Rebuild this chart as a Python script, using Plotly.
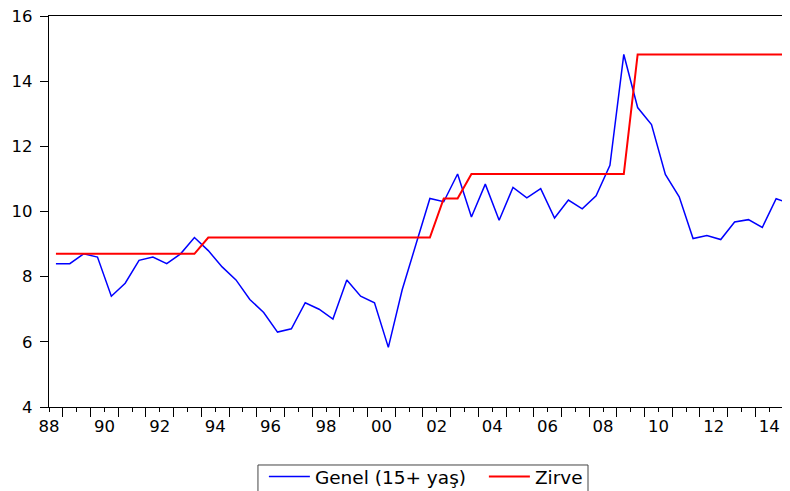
import plotly.graph_objects as go

# Semiannual observations 1988S1 .. 2014S2
periods = [f"{y}S{h}" for y in range(1988, 2015) for h in (1, 2)]
genel = [8.4, 8.4, 8.7, 8.6, 7.4, 7.8, 8.5, 8.6, 8.4, 8.7,
         9.2, 8.8, 8.3, 7.9, 7.3, 6.9, 6.3, 6.4, 7.2, 7.0,
         6.7, 7.9, 7.4, 7.2, 5.83, 7.6, 9.0, 10.4, 10.3, 11.15,
         9.83, 10.84, 9.73, 10.74, 10.42, 10.7, 9.8, 10.35, 10.08, 10.48,
         11.42, 14.82, 13.19, 12.67, 11.14, 10.45, 9.17, 9.26, 9.14, 9.68,
         9.75, 9.51, 10.39, 10.25]
zirve = [8.7] * 11 + [9.2] * 17 + [10.4] * 2 + [11.15] * 12 + [14.82] * 12

tick_years = list(range(1988, 2015))
tick_text = [f"{y % 100:02d}" if y % 2 == 0 else "" for y in tick_years]
y_ticks = [4, 6, 8, 10, 12, 14, 16]


def to_t(p):
    y, h = int(p[:4]), int(p[-1])
    return y + (h - 1) * 0.5 + 0.25


t = [to_t(p) for p in periods]

FONT = "DejaVu Sans, sans-serif"

fig = go.Figure()
fig.add_trace(go.Scatter(x=t, y=genel, mode="lines", name="Genel (15+ yaş)",
                         line=dict(color="#0000FF", width=1.5)))
fig.add_trace(go.Scatter(x=t, y=zirve, mode="lines", name="Zirve",
                         line=dict(color="#FF0000", width=2)))

# legend frame (partly below the visible page, as in the original)
fig.add_shape(type="rect", xref="paper", yref="paper",
              x0=0.282, x1=0.7274, y0=-0.30, y1=-0.1483,
              line=dict(color="#444444", width=1), fillcolor="rgba(0,0,0,0)",
              layer="above")

fig.update_layout(
    width=782, height=483,
    margin=dict(l=41, r=0, t=8, b=84, autoexpand=False),
    paper_bgcolor="white", plot_bgcolor="white",
    font=dict(family=FONT, size=16.5, color="black"),
    showlegend=True,
    legend=dict(orientation="h", x=0.290, xanchor="left", y=-0.1304, yanchor="top",
                borderwidth=0, bgcolor="rgba(0,0,0,0)",
                font=dict(family=FONT, size=18.5), itemwidth=41,
                entrywidth=164, entrywidthmode="pixels",
                traceorder="normal"),
    xaxis=dict(range=[1988, 2014.75], tickmode="array", tickvals=tick_years,
               ticktext=tick_text, ticks="outside", ticklen=4, tickwidth=1,
               tickcolor="black", showgrid=False, zeroline=False,
               showline=True, linecolor="black", linewidth=1.3, mirror=True,
               automargin=False, ticklabelstandoff=0, ticklabeloverflow="allow",
               minor=dict(tickmode="array", tickvals=[y + 0.5 for y in tick_years],
                          ticks="outside", ticklen=9, tickwidth=1, tickcolor="black",
                          showgrid=False),
               tickfont=dict(size=16.5)),
    yaxis=dict(range=[4, 16], tickmode="array", tickvals=y_ticks,
               ticks="outside", ticklen=8, tickwidth=1, tickcolor="black",
               showgrid=False, zeroline=False, showline=True, linecolor="black",
               linewidth=1.3, mirror=False, automargin=False, ticklabelstandoff=4,
               ticklabeloverflow="allow", tickfont=dict(size=16.5)),
)

fig.write_html("out.html")
